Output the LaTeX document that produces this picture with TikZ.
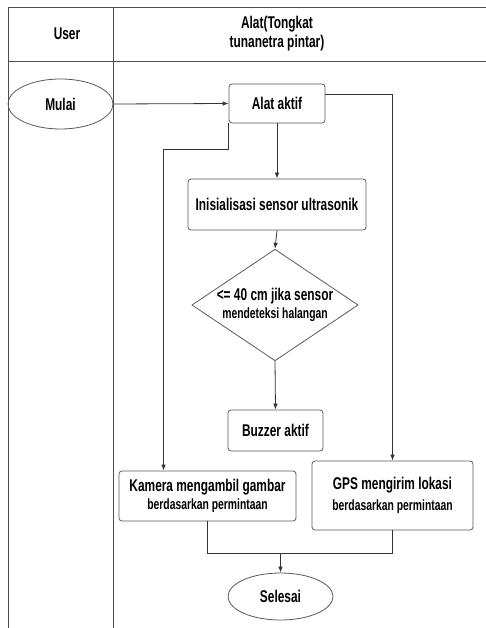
\documentclass[tikz,border=0pt]{standalone}
\usepackage{fontspec}
\setmainfont{Liberation Sans}[FakeStretch=0.7]
\usetikzlibrary{shapes.geometric,arrows.meta,calc}
\begin{document}
\begin{tikzpicture}[x=1pt,y=-1pt,
  every node/.style={font=\bfseries\fontsize{17}{19}\selectfont, text=black},
  lane/.style={draw=black!70, line width=0.8pt},
  boxnode/.style={draw=black!65, line width=0.8pt, rounded corners=3pt, inner sep=0pt, align=center},
  endnode/.style={ellipse, draw=black!65, line width=0.8pt, inner sep=0pt},
  decnode/.style={diamond, draw=black!65, line width=0.8pt, inner sep=0pt, aspect=1.49, align=center},
  conn/.style={draw=black!80, line width=0.8pt},
  arr/.style={conn, -{Latex[length=6pt,width=4.5pt]}}
]
\useasboundingbox (0,0) rectangle (486,628);
% lanes
\draw[lane] (8,7) -- (486,7);
\draw[lane] (8,61) -- (486,61);
\draw[lane] (8,7) -- (8,628);
\draw[lane] (113,7) -- (113,628);
\node (huser) at (67,34) {User};
\node[align=center] (halat) at (277,34) {Alat(Tongkat\\tunanetra pintar)};
% nodes
\node[endnode, minimum width=105pt, minimum height=50pt] (mulai) at (60.5,104) {Mulai};
\node[boxnode, minimum width=96pt, minimum height=39pt] (aktif) at (277,103.5) {Alat aktif};
\node[boxnode, minimum width=178pt, minimum height=51pt] (init) at (277,204.5) {Inisialisasi sensor ultrasonik};
\node[decnode, minimum width=164pt, minimum height=110pt] (dec) at (275,305) {<= 40 cm jika sensor\\[-1pt]{\fontsize{14.8}{17}\selectfont mendeteksi halangan}};
\node[boxnode, minimum width=95pt, minimum height=41pt] (buzzer) at (275.5,430.5) {Buzzer aktif};
\node[boxnode, minimum width=177pt, minimum height=50pt] (kamera) at (207.5,496) {Kamera mengambil gambar\\[-1pt]{\fontsize{14.8}{17}\selectfont berdasarkan permintaan}};
\node[boxnode, minimum width=161pt, minimum height=69pt] (gps) at (392.5,495.5) {GPS mengirim lokasi\\[2pt]{\fontsize{14.8}{17}\selectfont berdasarkan permintaan}};
\node[endnode, minimum width=105pt, minimum height=47pt] (selesai) at (280.5,596.5) {Selesai};
\coordinate (merge) at (280.5,553);
% connectors
\draw[arr] (mulai.east) -- (aktif.west);
\draw[arr] (aktif.south) -- (init.north);
\draw[arr] (aktif.south west) -- ++(0,26) -| ([xshift=-44pt]kamera.north);
\draw[arr] ([yshift=9.5pt]aktif.east) -| (gps.north);
\draw[arr] (init.south) -- (dec.north);
\draw[arr] (dec.south) -- (buzzer.north);
\draw[conn] (kamera.south) |- (merge);
\draw[conn] (gps.south) |- (merge);
\draw[arr] (merge) -- (selesai.north);
\end{tikzpicture}
\end{document}
